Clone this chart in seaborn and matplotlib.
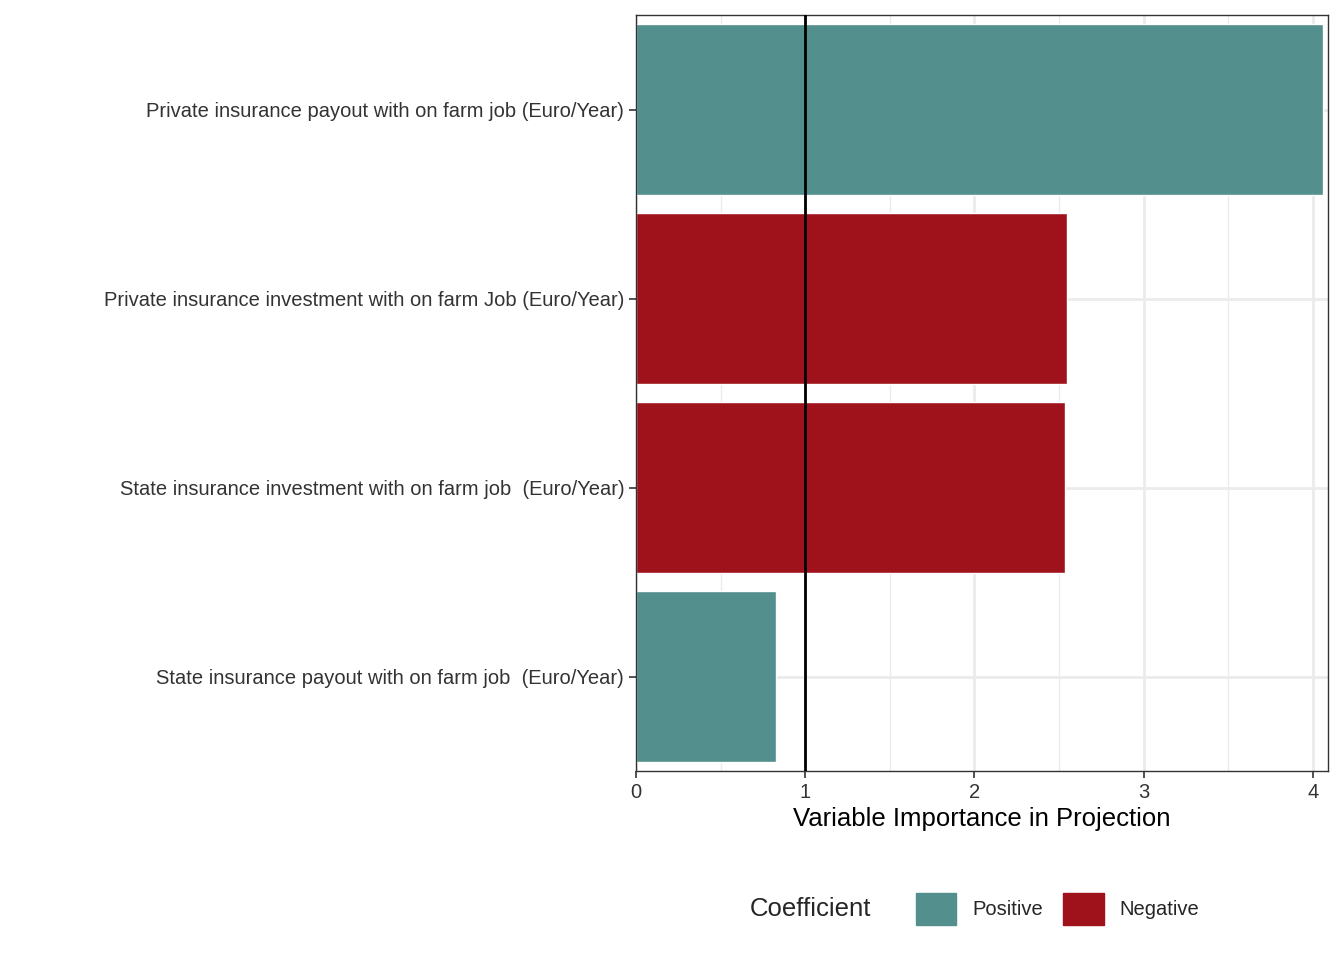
import matplotlib
matplotlib.use("Agg")
import matplotlib.pyplot as plt
import seaborn as sns
import pandas as pd
from matplotlib.patches import Patch

variables = ["Private insurance payout with on farm job (Euro/Year)",
             "Private insurance investment with on farm Job (Euro/Year)",
             "State insurance investment with on farm job  (Euro/Year)",
             "State insurance payout with on farm job  (Euro/Year)"]
vip = [4.06, 2.547, 2.535, 0.827]
coef = ["Positive", "Negative", "Negative", "Positive"]
palette = {"Positive": "#528F8D", "Negative": "#A0121B"}

df = pd.DataFrame({"Variable": variables, "VIP": vip, "Coefficient": coef})

sns.set_theme(style="white")
plt.rcParams['font.family'] = ['Liberation Sans', 'DejaVu Sans']

fig = plt.figure(figsize=(13.44, 9.6), dpi=100)
ax = fig.add_axes([636/1344, 1-771/960, (1328-636)/1344, (771-15)/960])

for x in [0.5, 1.5, 2.5, 3.5]:
    ax.axvline(x, color="#EBEBEB", lw=1, zorder=0)
for x in [0, 1, 2, 3, 4]:
    ax.axvline(x, color="#EBEBEB", lw=2, zorder=0)
for y in range(4):
    ax.axhline(y, color="#EBEBEB", lw=2, zorder=0)

sns.barplot(data=df, y="Variable", x="VIP", hue="Coefficient", palette=palette,
            dodge=False, width=0.9, orient="h", ax=ax, legend=False, zorder=2,
            saturation=1)
ax.axvline(1, color="black", lw=2, zorder=3)

ax.set_xlim(0, 4.089)
ax.set_ylim(3.5, -0.5)
ax.set_xticks([0, 1, 2, 3, 4])
ax.set_ylabel("")
ax.set_xlabel("Variable Importance in Projection", fontsize=18.5, color="black")
ax.tick_params(axis="both", labelsize=14.5, colors="#333333", length=5, width=1.2,
               left=True, bottom=True, direction="out")
ax.tick_params(axis="both", color="#333333")
for s in ax.spines.values():
    s.set_color("#333333"); s.set_linewidth(1)

fig.text(750/1344, 1-909/960, "Coefficient", fontsize=18.5, va="center", ha="left")
handles = [Patch(color=palette["Positive"], label="Positive"),
           Patch(color=palette["Negative"], label="Negative")]
fig.legend(handles=handles, loc="center left", bbox_to_anchor=(898/1344, 1-909/960),
           ncol=2, frameon=False, fontsize=14.5, handlelength=2.0, handleheight=2.0,
           columnspacing=1.0, handletextpad=0.8)

fig.savefig("out.png", dpi=100)
